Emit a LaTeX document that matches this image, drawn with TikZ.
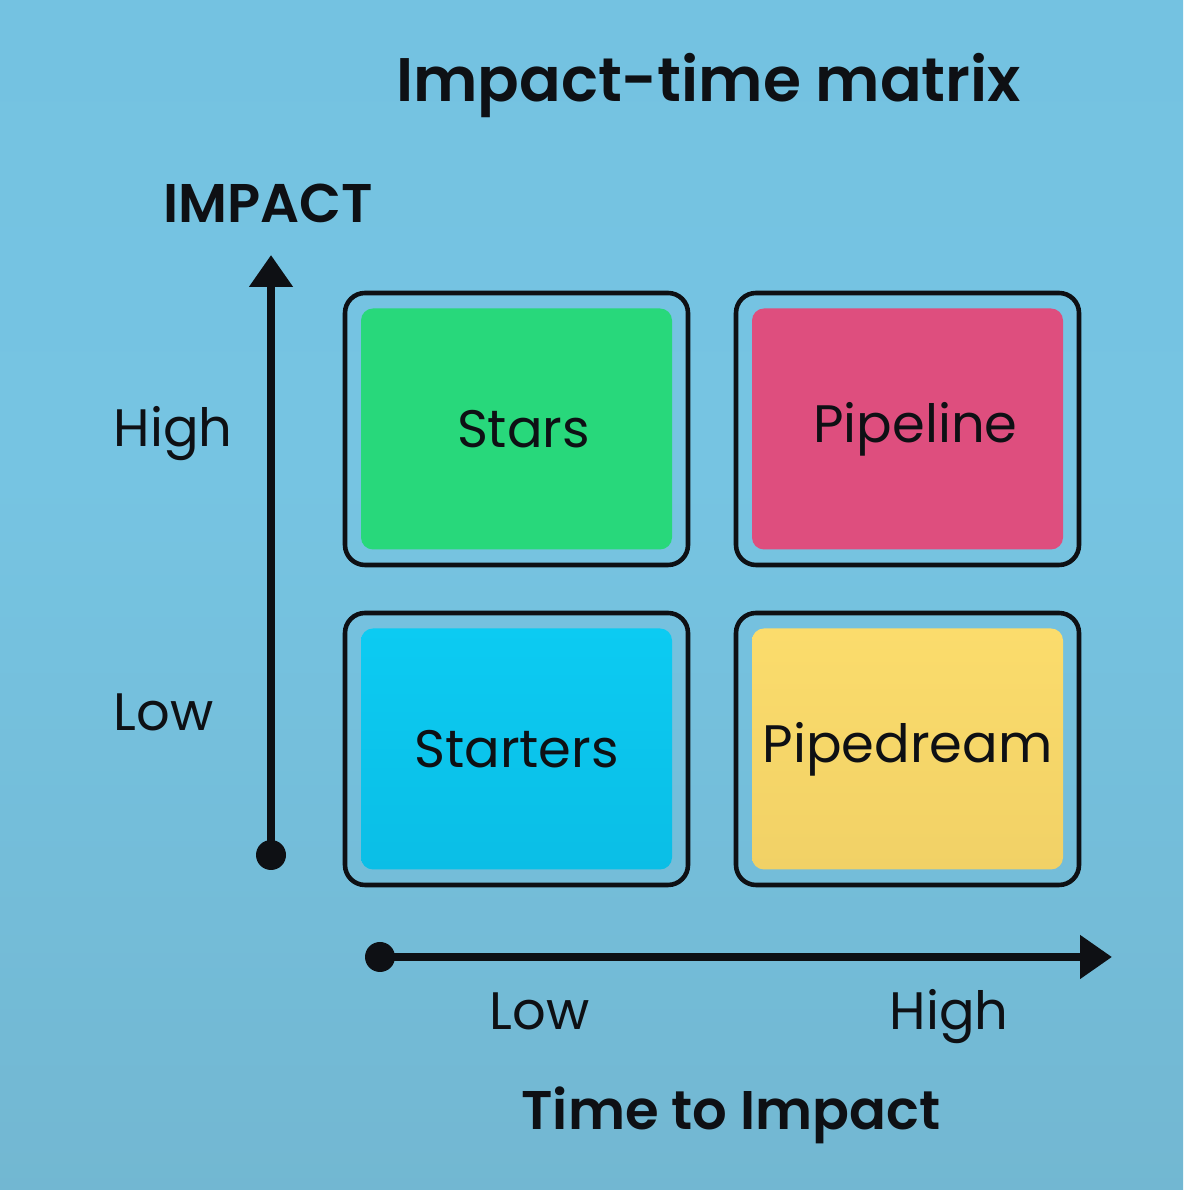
\documentclass[tikz,border=0pt]{standalone}
\usepackage{fontspec}
\setmainfont{Poppins}[BoldFont={Poppins SemiBold}]
\usetikzlibrary{arrows.meta,positioning}

\definecolor{bgedge}{RGB}{98,164,194}
\definecolor{bgtop}{RGB}{114,192,224}
\definecolor{bgmid}{RGB}{118,196,226}
\definecolor{bglow}{RGB}{114,182,208}
\definecolor{bgbottom}{RGB}{112,160,182}
\definecolor{txt}{RGB}{14,16,20}
\definecolor{starsgreen}{RGB}{40,216,123}
\definecolor{pipelinepink}{RGB}{222,78,126}
\definecolor{starterstop}{RGB}{12,203,242}
\definecolor{startersbot}{RGB}{11,190,230}
\definecolor{dreamtop}{RGB}{251,220,108}
\definecolor{dreambot}{RGB}{241,209,102}

\pgfdeclareverticalshading{bgfade}{100bp}{color(0bp)=(bgbottom); color(22bp)=(bglow);
  color(55bp)=(bgmid); color(97bp)=(bgtop); color(100bp)=(bgedge)}

\begin{document}
\begin{tikzpicture}[>={Triangle[width=0.42cm,length=0.32cm]},node distance=0.48cm,
                    font=\fontsize{15}{18}\selectfont]
  \tikzstyle{frame}=[draw=txt,line width=1.3pt,rounded corners=0.2cm,
                     minimum width=3.43cm,minimum height=2.72cm,inner sep=0pt,outer sep=0pt]
  \tikzstyle{tile}=[rounded corners=0.12cm,minimum width=3.11cm,minimum height=2.41cm,
                    inner sep=0pt,text=txt]
  \tikzstyle{axis}=[->,line width=2.3pt,draw=txt]
  \tikzstyle{label}=[text=txt,inner sep=0pt,anchor=base west]
  \tikzstyle{heading}=[text=txt,inner sep=0pt,anchor=base,font=\bfseries\fontsize{15.5}{18}\selectfont]

  \useasboundingbox (0,0) rectangle (11.83,11.90);
  \shade[shading=bgfade] (0,0) rectangle (11.83,11.90);

  % quadrants
  \node[frame]          (starsF)     at (5.165,7.61)  {};
  \node[frame]          (pipelineF)  [right=of starsF]    {};
  \node[frame]          (startersF)  [below=of starsF]    {};
  \node[frame]          (pipedreamF) [below=of pipelineF] {};

  \node[tile,fill=starsgreen]                              (stars)     at (starsF)     {\hspace{0.14cm}Stars};
  \node[tile,fill=pipelinepink]                            (pipeline)  at (pipelineF)  {\hspace{0.16cm}Pipeline};
  \node[tile,top color=starterstop,bottom color=startersbot] (starters)  at (startersF)  {Starters};
  \node[tile,top color=dreamtop,bottom color=dreambot]     (pipedream) at (pipedreamF) {Pipedream};

  % axes
  \coordinate (yorigin) at (2.71,3.35);
  \coordinate (ytip)    at (2.71,9.35);
  \coordinate (xorigin) at (3.80,2.33);
  \coordinate (xtip)    at (11.12,2.33);

  \draw[axis] (yorigin) -- (ytip);
  \draw[axis] (xorigin) -- (xtip);
  \fill[txt] (yorigin) circle (0.15);
  \fill[txt] (xorigin) circle (0.15);

  % texts
  \node[heading,font=\bfseries\fontsize{17.5}{21}\selectfont] (title) at (7.085,10.88) {Impact-time matrix};
  \node[heading,anchor=base west] (impact) at (1.63,9.67)  {IMPACT};
  \node[label]                    (yhigh)  at (1.13,7.43)  {High};
  \node[label]                    (ylow)   at (1.13,4.59)  {Low};
  \node[label]                    (xlow)   at (4.89,1.60)  {Low};
  \node[label]                    (xhigh)  at (8.89,1.60)  {High};
  \node[heading]                  (time)   at (7.31,0.60)  {Time to Impact};
\end{tikzpicture}
\end{document}
